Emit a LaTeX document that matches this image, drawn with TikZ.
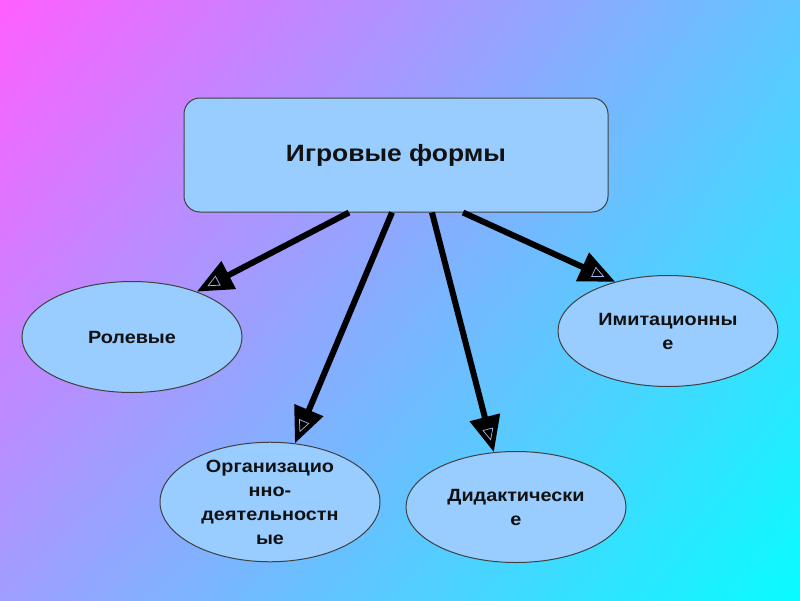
\documentclass[tikz,border=0pt]{standalone}
\usepackage{fontspec}
\setmainfont{Liberation Sans}[FakeStretch=1.12]
\usetikzlibrary{arrows.meta,shapes.geometric,calc,shadings}
\definecolor{boxfill}{HTML}{99CCFF}
\definecolor{boxline}{HTML}{404040}
\definecolor{bgtl}{HTML}{FF5FFF}
\definecolor{bgtr}{HTML}{60C6FF}
\definecolor{bgbl}{HTML}{A09EFF}
\definecolor{bgbr}{HTML}{08FCFF}
\definecolor{txt}{HTML}{111111}
\definecolor{hollow}{HTML}{A8B8E8}
\tikzset{
  topbox/.style={draw=boxline, line width=1pt, fill=boxfill, rounded corners=16pt,
    minimum width=424pt, minimum height=114pt, inner sep=0pt,
    font=\bfseries\fontsize{23.6}{28}\selectfont, text=txt},
  oval/.style={ellipse, draw=boxline, line width=1pt, fill=boxfill,
    minimum width=220pt, minimum height=111pt, inner sep=0pt, align=center,
    font=\bfseries\fontsize{17.7}{24}\selectfont, text=txt},
  bigarrow/.style={line width=6pt, draw=black,
    -{Triangle[length=36pt, width=30pt]}},
  hollowmark/.style={line width=0.7pt, draw=black, shorten >=12pt,
    -{Triangle[open, length=12pt, width=11pt, color=hollow]}}
}
\begin{document}
\begin{tikzpicture}[x=1pt,y=-1pt]
\useasboundingbox (0,0) rectangle (800,600);
\shade[upper left=bgtl, upper right=bgtr, lower left=bgbl, lower right=bgbr]
  (0,0) rectangle (800,600);
\node[topbox] (title) at (396,155) {Игровые формы};
\node[oval] (role) at (132,337) {Ролевые};
\node[oval] (org) at (270,502) {Организацио\\нно-\\деятельностн\\ые};
\node[oval] (did) at (516,507) {Дидактически\\е};
\node[oval] (imit) at (668,331) {Имитационны\\е};
\coordinate (s1) at ([xshift=-47pt]title.south);
\coordinate (s2) at ([xshift=-4pt]title.south);
\coordinate (s3) at ([xshift=36pt]title.south);
\coordinate (s4) at ([xshift=67pt]title.south);
\foreach \s/\t in {s1/role.35, s2/org.67.5, s3/did.112.8, s4/imit.137}{
  \draw[bigarrow] (\s) -- (\t);
  \draw[hollowmark] (\s) -- (\t);
}
\end{tikzpicture}
\end{document}
